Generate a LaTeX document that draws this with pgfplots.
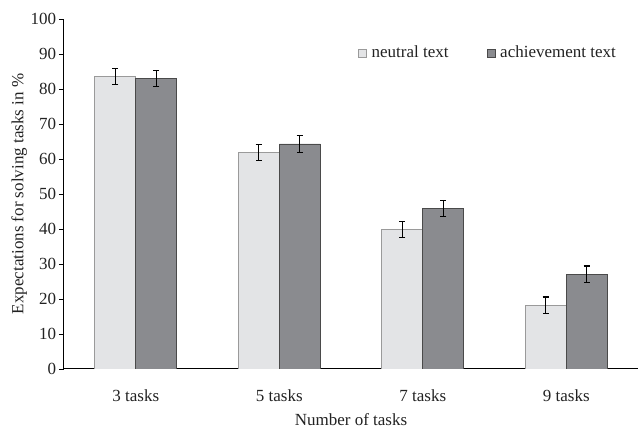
\documentclass[border=0pt]{standalone}
\usepackage{pgfplots}
\pgfplotsset{compat=1.18}
\usepackage{fontspec}
\setmainfont{Liberation Serif}
\definecolor{neutralfill}{HTML}{E3E4E6}
\definecolor{neutraledge}{HTML}{9A9A9A}
\definecolor{achfill}{HTML}{8A8B8F}
\definecolor{achedge}{HTML}{4A4A4A}
\definecolor{txt}{HTML}{222222}
\begin{document}
\fontsize{17}{20}\selectfont
\begin{tikzpicture}
\begin{axis}[
  scale only axis, width=574pt, height=350pt,
  font=\fontsize{17}{20}\selectfont,
  xmin=-0.5, xmax=3.5, ymin=0, ymax=100,
  axis x line=bottom, axis y line=left,
  axis line style={-, line width=1pt, black},
  ytick={0,10,...,100},
  xtick={0,1,2,3},
  xticklabels={3 tasks,5 tasks,7 tasks,9 tasks},
  xtick style={draw=none},
  ytick style={line width=0.8pt, black},
  tick align=outside,
  major tick length=5pt,
  /pgf/number format/assume math mode=true,
  tick label style={text=txt},
  label style={text=txt},
  xticklabel style={yshift=-10pt},
  yticklabel style={xshift=3pt},
  xlabel={Number of tasks},
  ylabel={Expectations for solving tasks in \%},
  xlabel style={yshift=0pt},
  ylabel style={yshift=-8pt},
  ybar=0pt, bar width=41pt,
  legend style={draw=none, fill=none, at={(rel axis cs:0.512,0.903)}, anchor=west,
    legend columns=2, /tikz/every even column/.append style={column sep=36pt},
    /tikz/every odd column/.append style={column sep=3pt},
    inner sep=0pt, font=\fontsize{17}{20}\selectfont, text=txt},
  legend image code/.code={\draw[#1, line width=0.6pt] (0pt,-4pt) rectangle (8pt,4pt);},
  legend cell align=left,
]
\addplot[fill=neutralfill, draw=neutraledge, line width=0.8pt,
  error bars/.cd, y dir=both, y explicit,
  error mark options={rotate=90, mark size=3.2pt, line width=1.2pt, black},
  error bar style={line width=1.2pt, black}]
  coordinates {(0,83.5) +- (0,2.3) (1,61.8) +- (0,2.3) (2,39.9) +- (0,2.3) (3,18.2) +- (0,2.35)};
\addplot[fill=achfill, draw=achedge, line width=0.8pt,
  error bars/.cd, y dir=both, y explicit,
  error mark options={rotate=90, mark size=3.2pt, line width=1.2pt, black},
  error bar style={line width=1.2pt, black}]
  coordinates {(0,82.9) +- (0,2.3) (1,64.3) +- (0,2.35) (2,45.8) +- (0,2.3) (3,27.1) +- (0,2.3)};
\legend{neutral text, achievement text}
\end{axis}
\path ([shift={(-64pt,-56pt)}]current axis.south west) rectangle ([shift={(2pt,19pt)}]current axis.north east);
\end{tikzpicture}
\end{document}
